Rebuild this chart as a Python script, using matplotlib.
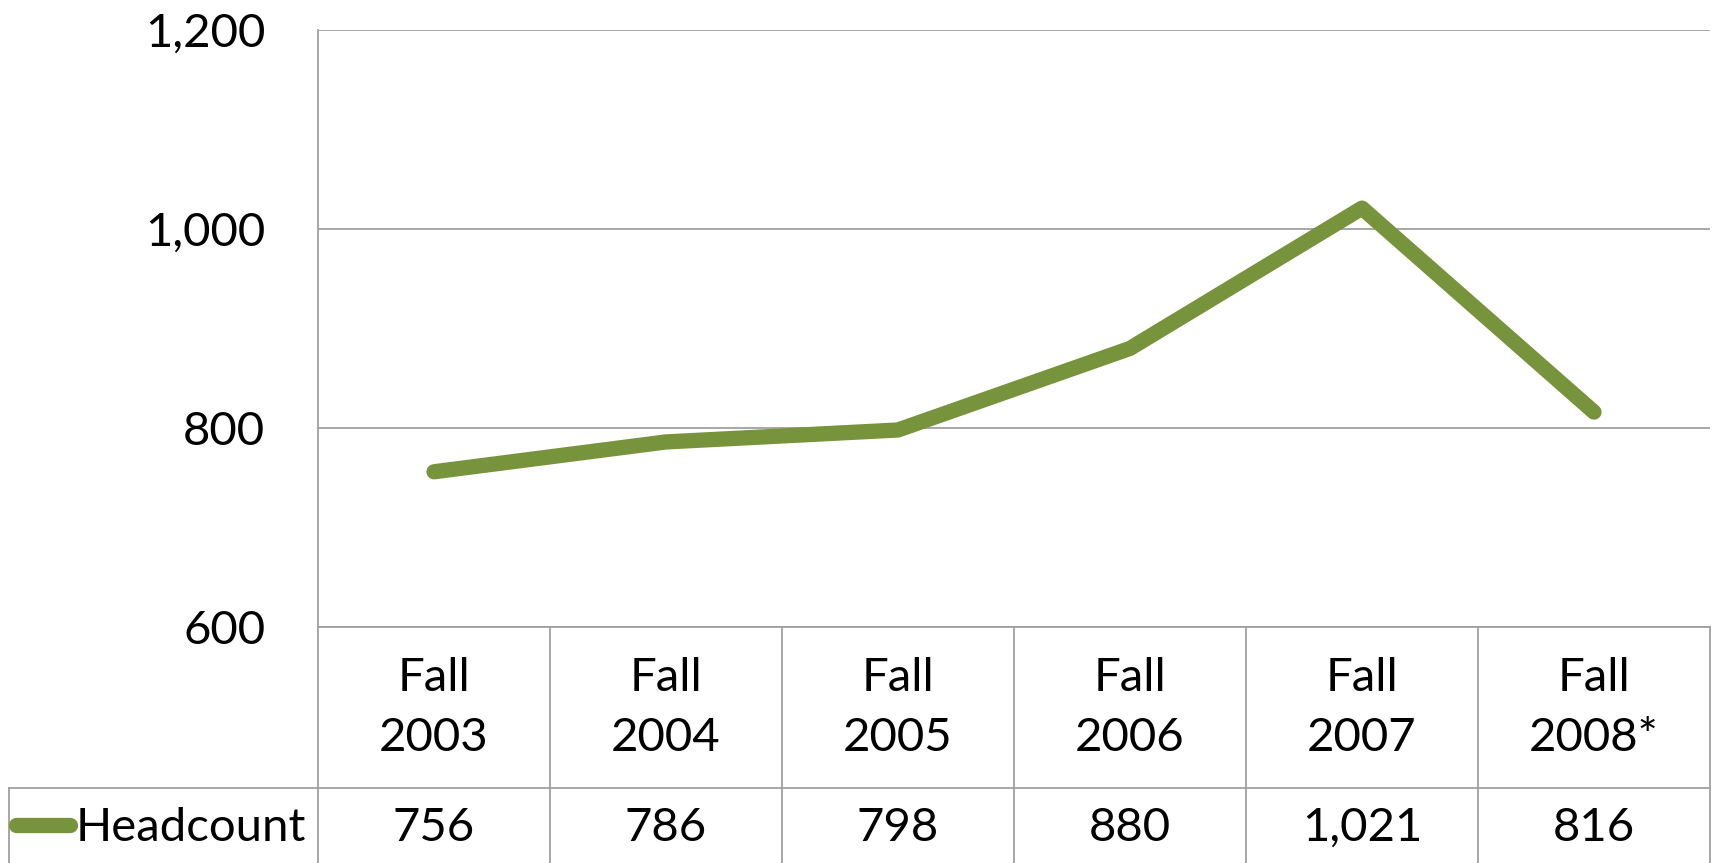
import matplotlib
matplotlib.use('Agg')
from matplotlib import pyplot as plt
from matplotlib.ticker import FuncFormatter
from matplotlib.transforms import blended_transform_factory

# dados do gráfico
anos = ['Fall\n2003', 'Fall\n2004', 'Fall\n2005', 'Fall\n2006', 'Fall\n2007', 'Fall\n2008*']
headcount = [756, 786, 798, 880, 1021, 816]
rotulo_serie = 'Headcount'
yticks = [600, 800, 1000, 1200]

verde = '#77933C'
cinza = '#A0A0A0'
fs = 34  # tamanho da fonte
plt.rcParams['font.family'] = ['Lato', 'DejaVu Sans']

fig = plt.figure(figsize=(17.15, 8.63), dpi=100)
W, H = 1715, 863
ax = fig.add_axes([318 / W, (H - 627) / H, (1710 - 318) / W, (627 - 30) / H])

x = list(range(len(anos)))
ax.plot(x, headcount, color=verde, lw=11, solid_capstyle='round', solid_joinstyle='round', zorder=3)

ax.set_xlim(-0.5, len(anos) - 0.5)
ax.set_ylim(600, 1200)
ax.set_yticks(yticks)
ax.yaxis.set_major_formatter(FuncFormatter(lambda v, p: f'{int(v):,}'))
ax.tick_params(axis='y', length=0, pad=38, labelsize=fs)
ax.tick_params(axis='x', length=0, labelbottom=False)
ax.grid(axis='y', color=cinza, lw=1.3)
for s in ['top', 'right']:
    ax.spines[s].set_visible(False)
ax.spines['left'].set_visible(False)
ax.spines['bottom'].set_color(cinza)
ax.spines['bottom'].set_linewidth(1.3)

# tabela de dados abaixo do eixo
tr = blended_transform_factory(ax.transData, ax.transAxes)
altura = 627 - 30
y_cab = -(788 - 627) / altura  # fundo da linha de cabeçalho
y_fim = -(H - 627) / altura - 0.01
x_tab = -0.5 - (318 - 9) / ((1710 - 318) / len(anos))

lk = dict(color=cinza, lw=1.3, clip_on=False, transform=tr)
ax.plot([-0.5, -0.5], [1, y_fim], **lk)
for i in range(len(anos)):
    ax.plot([i + 0.5, i + 0.5], [0, y_fim], **lk)
ax.plot([x_tab, len(anos) - 0.5], [y_cab, y_cab], **lk)
ax.plot([x_tab, x_tab], [y_cab, y_fim], **lk)

for i, (a, v) in enumerate(zip(anos, headcount)):
    ax.text(i, -(708 - 627) / altura, a, ha='center', va='center', fontsize=fs, transform=tr, linespacing=1.55)
    ax.text(i, -(828 - 627) / altura, f'{v:,}', ha='center', va='center', fontsize=fs, transform=tr)

# legenda na tabela
fx = lambda px: px / W
fy = lambda py: (H - py) / H
fig.add_artist(plt.Line2D([fx(16), fx(70)], [fy(825), fy(825)], color=verde, lw=11,
                          solid_capstyle='round'))
fig.text(fx(76), fy(828), rotulo_serie, ha='left', va='center', fontsize=fs)

fig.savefig('out.png', dpi=100)
